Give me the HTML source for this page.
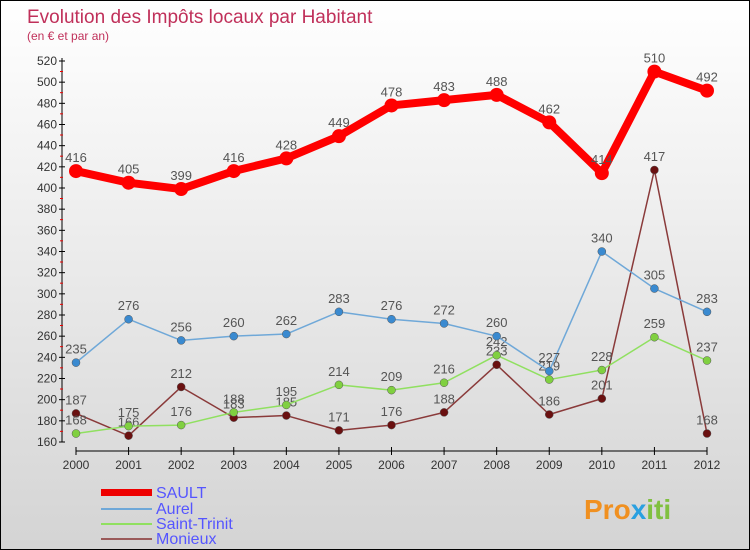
<!DOCTYPE html>
<html><head><meta charset="utf-8"><style>
body{margin:0}
#c{width:748px;height:548px;border:1px solid #000;background:linear-gradient(#fff,#d4d4d4);position:relative;font-family:"Liberation Sans",sans-serif;overflow:hidden}
</style></head><body>
<div id="c">
<svg id="s" width="748" height="548" xmlns="http://www.w3.org/2000/svg" font-family="Liberation Sans, sans-serif">
<text x="26" y="22" font-size="19" fill="#c0305a">Evolution des Impôts locaux par Habitant</text>
<text x="26" y="39" font-size="12" fill="#c0305a">(en € et par an)</text>
<g id="axes"></g><g id="series"></g>
<g>
<rect x="100" y="488" width="51" height="7" fill="#e00"/>
<text x="155" y="497" font-size="16" fill="#5555ff">SAULT</text>
<line x1="100" x2="151" y1="508" y2="508" stroke="#6fa8d8" stroke-width="2"/>
<text x="155" y="513" font-size="16" fill="#5555ff">Aurel</text>
<line x1="100" x2="151" y1="523" y2="523" stroke="#90e060" stroke-width="2"/>
<text x="155" y="528" font-size="16" fill="#5555ff">Saint-Trinit</text>
<line x1="100" x2="151" y1="538" y2="538" stroke="#9a5a5a" stroke-width="2"/>
<text x="155" y="543" font-size="16" fill="#5555ff">Monieux</text>
</g>
<text x="583" y="518" font-size="28" font-weight="bold" fill="#f09020">Pro<tspan fill="#2aa0e0">x</tspan><tspan fill="#80c040">iti</tspan></text>
</svg></div>
<script>
const years=["2000","2001","2002","2003","2004","2005","2006","2007","2008","2009","2010","2011","2012"];
const sault=[416,405,399,416,428,449,478,483,488,462,414,510,492];
const aurel=[235,276,256,260,262,283,276,272,260,227,340,305,283];
const saintTrinit=[168,175,176,188,195,214,209,216,242,219,228,259,237];
const monieux=[187,166,212,183,185,171,176,188,233,186,201,417,168];
const yTicks=[160,180,200,220,240,260,280,300,320,340,360,380,400,420,440,460,480,500,520];
const NS="http://www.w3.org/2000/svg";
const xs=i=>75+i*(706-75)/(years.length-1);
const ys=v=>441-(v-160)*(441-60)/(520-160);
function mk(t,a,p){const e=document.createElementNS(NS,t);for(const k in a)e.setAttribute(k,a[k]);p.appendChild(e);return e;}
const ax=document.getElementById('axes');
let l=mk('line',{x1:61,x2:61,y1:57,y2:441,stroke:'#000'},ax);


yTicks.forEach((v,k)=>{const y=ys(v);
 mk('line',{x1:58,x2:64,y1:y,y2:y,stroke:'#000'},ax);
 if(k>0) mk('line',{x1:59,x2:62,y1:y+10.5,y2:y+10.5,stroke:'#e00'},ax);
 const t=mk('text',{x:56,y:y+4,'font-size':12,fill:'#333','text-anchor':'end'},ax);t.textContent=v;
 
 });
l=mk('line',{x1:75,x2:706,y1:450,y2:450,stroke:'#000'},ax);


years.forEach((yr,i)=>{const x=xs(i);mk('line',{x1:x,x2:x,y1:446,y2:454,stroke:'#000'},ax);
 const t=mk('text',{x:x,y:468,'font-size':12,fill:'#333','text-anchor':'middle'},ax);t.textContent=yr;
 
 });
const sg=document.getElementById('series');
function series(name,data,col,w,r,dot){
 const g=mk('g',{},sg);
 
 
 mk('polyline',{points:data.map((v,i)=>xs(i)+','+ys(v)).join(' '),fill:'none',stroke:col,'stroke-width':w,'stroke-linejoin':'round'},g);
 data.forEach((v,i)=>{const c=mk('circle',{cx:xs(i),cy:ys(v),r:r,fill:dot,stroke:dot==col?'none':'#555','stroke-width':0.5},g);
  
  
  const t=mk('text',{x:xs(i),y:ys(v)-9,'font-size':13,fill:'#555','text-anchor':'middle'},g);t.textContent=v;
  
  });
}
series('monieux',monieux,'#8a3a3a',1.5,4,'#6a1010');
series('saint-trinit',saintTrinit,'#90e060',1.5,4,'#80d040');
series('aurel',aurel,'#6fa8d8',1.5,4,'#3a8ad0');
series('sault',sault,'#f00',8,7,'#f00');
</script>
</body></html>
